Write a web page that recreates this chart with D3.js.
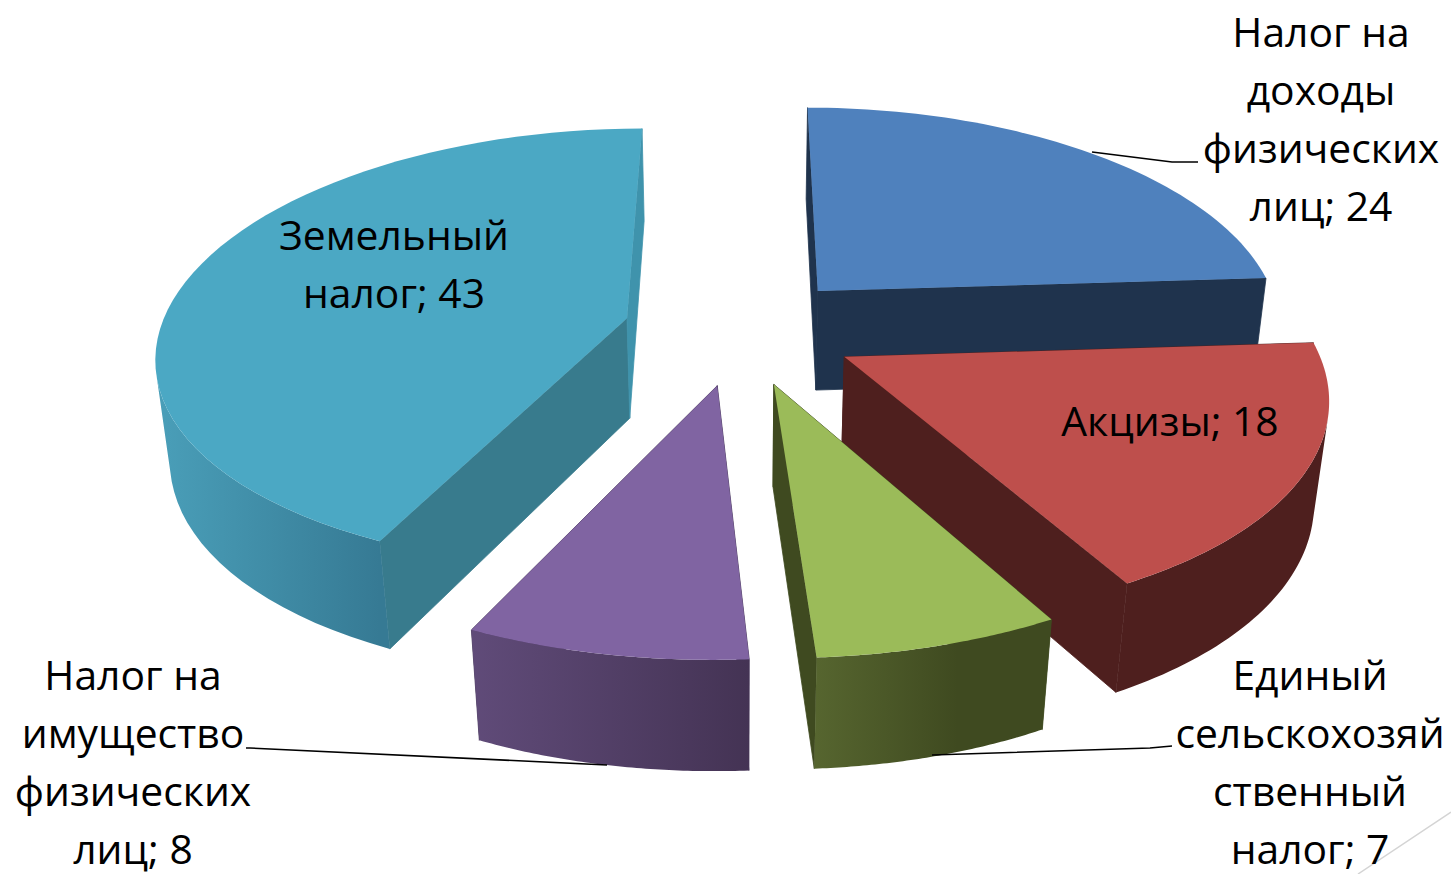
<!DOCTYPE html>
<html>
<head>
<meta charset="utf-8">
<script src="https://cdn.jsdelivr.net/npm/d3@7"></script>
<style>
html, body { margin: 0; padding: 0; background: #fff; overflow: hidden; }
text { font-family: "Open Sans", sans-serif; font-size: 40.8px; fill: #000; }
</style>
</head>
<body>
<div id="chart"></div>
<script>
const categories = ["Налог на доходы физических лиц", "Акцизы", "Единый сельскохозяйственный налог", "Налог на имущество физических лиц", "Земельный налог"];
const values = [24, 18, 7, 8, 43];
const labelLines = [
    ["Налог на", "доходы", "физических", "лиц; 24"],
    ["Акцизы; 18"],
    ["Единый", "сельскохозяй", "ственный", "налог; 7"],
    ["Налог на", "имущество", "физических", "лиц; 8"],
    ["Земельный", "налог; 43"]
];

const topColors = ["#4F81BD", "#BE4F4C", "#9BBB59", "#8064A2", "#4BA8C4"];
const startCutColors = ["#1F334D", "#4E1F1E", "#3F4A20", "#46365A", "#387B8D"];
const endCutColors = ["#1F334D", "#4E1F1E", "#3F4A20", "#46365A", "#3F93AC"];
const wallLeft = ["#1F334D", "#4E1F1E", "#56652F", "#604B79", "#4A9FB9"];
const wallRight = ["#1F334D", "#4E1F1E", "#3F4A20", "#443354", "#367A94"];

const width = 1451, height = 874;
const view = {x0: 740, y0: 330, A: 467, B: 219, H: 103, p: 0.139, px: 0.155, q: 0.025};
const explode = 0.25;
// painter's order, back to front
const drawOrder = [0, 4, 1, 3, 2];

function project(u, v, z) {
    const w = 1 / (1 - view.p * v + view.q * z);
    const wx = 1 / (1 - view.px * v + view.q * z);
    return [view.x0 + view.A * u * wx, view.y0 + (view.B * v + view.H * z) * w];
}

const svg = d3.select("#chart").append("svg")
    .attr("width", width)
    .attr("height", height);
const defs = svg.append("defs");
const line = d3.line();

const arcs = d3.pie().sort(null)(values);

function drawSlice(d, i) {
    const mid = (d.startAngle + d.endAngle) / 2;
    const offU = explode * Math.sin(mid), offV = -explode * Math.cos(mid);
    const steps = d3.range(0, 61).map(k => d.startAngle + (d.endAngle - d.startAngle) * k / 60);
    const rimTop = steps.map(a => project(offU + Math.sin(a), offV - Math.cos(a), 0));
    const rimBottom = steps.map(a => project(offU + Math.sin(a), offV - Math.cos(a), 1));
    const apexTop = project(offU, offV, 0), apexBottom = project(offU, offV, 1);
    const g = svg.append("g");

    const xs = rimBottom.map(p => p[0]);
    const frontXs = steps.filter(a => Math.cos(a) < 0.1).map(a => project(offU + Math.sin(a), offV - Math.cos(a), 0)[0]);
    const grad = defs.append("linearGradient")
        .attr("id", "wall" + i)
        .attr("gradientUnits", "userSpaceOnUse")
        .attr("x1", d3.min(frontXs.length ? frontXs : xs)).attr("x2", d3.max(frontXs.length ? frontXs : xs))
        .attr("y1", 0).attr("y2", 0);
    grad.append("stop").attr("offset", 0).attr("stop-color", wallLeft[i]);
    grad.append("stop").attr("offset", i == 2 ? 0.6 : 1).attr("stop-color", wallRight[i]);

    // cut faces first, the rim wall and top face then hide whatever faces away
    g.append("path").attr("d", line([apexTop, rimTop[0], rimBottom[0], apexBottom]) + "Z")
        .attr("fill", startCutColors[i])
        .attr("stroke", startCutColors[i]).attr("stroke-width", 0.8);
    g.append("path").attr("d", line([apexTop, rimTop[60], rimBottom[60], apexBottom]) + "Z")
        .attr("fill", endCutColors[i])
        .attr("stroke", endCutColors[i]).attr("stroke-width", 0.8);

    // rim wall as one path of quads, only the ones facing the viewer
    const quads = d3.range(0, 60)
        .map(k => [rimTop[k], rimTop[k + 1], rimBottom[k + 1], rimBottom[k]])
        .filter(q => d3.polygonArea(q) > 0);
    g.append("path")
        .attr("d", quads.map(q => line(q) + "Z").join(""))
        .attr("fill", `url(#wall${i})`);

    g.append("path").attr("d", line([apexTop].concat(rimTop)) + "Z")
        .attr("fill", topColors[i]);
}

drawOrder.forEach(i => drawSlice(arcs[i], i));

// leader lines and the stray line from the slide background
const leaders = [
    [[1092, 152], [1172, 162], [1198, 162]],
    [[607, 765], [250, 748], [246, 748]],
    [[932, 755], [1150, 748], [1172, 746]]
];
svg.selectAll(".leader").data(leaders).enter().append("path")
    .attr("class", "leader")
    .attr("d", d => line(d))
    .attr("fill", "none")
    .attr("stroke", "#000")
    .attr("stroke-width", 1.6);
svg.append("line")
    .attr("x1", 1451).attr("y1", 812).attr("x2", 1358).attr("y2", 874)
    .attr("stroke", "#D4D4D4").attr("stroke-width", 1.5);

// centre x and first baseline of each label
const labelPos = [[1321, 47], [1170, 436], [1310, 690], [133, 690], [394, 250]];
const lineHeight = 58;
labelLines.forEach((lines, i) => {
    const t = svg.append("text").attr("text-anchor", "middle");
    lines.forEach((s, k) => {
        t.append("tspan")
            .attr("x", labelPos[i][0])
            .attr("y", labelPos[i][1] + k * lineHeight)
            .text(s);
    });
});
</script>
</body>
</html>
